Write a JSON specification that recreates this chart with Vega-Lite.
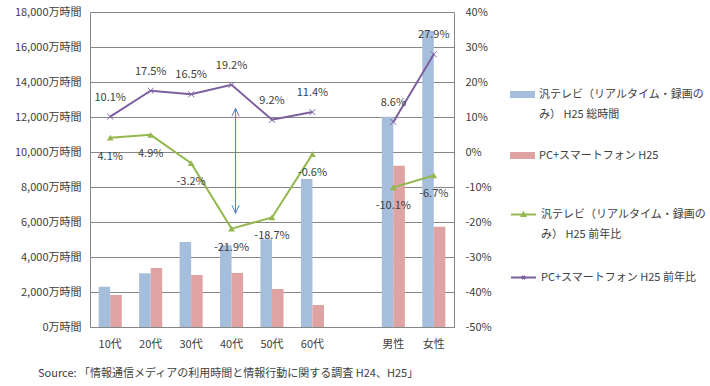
{
  "$schema": "https://vega.github.io/schema/vega-lite/v6.json",
  "width": 364,
  "height": 315,
  "autosize": {"type": "none"},
  "padding": {"left": 90, "top": 12, "right": 256, "bottom": 59},
  "background": "white",
  "config": {
    "font": "Noto Sans CJK JP",
    "view": {"stroke": null},
    "style": {"guide-label": {"lineHeight": 20}},
    "locale": {"number": {"decimal": ".", "thousands": ",", "grouping": [3], "currency": ["", ""], "minus": "-"}}
  },
  "title": {
    "text": "Source: 「情報通信メディアの利用時間と情報行動に関する調査 H24、H25」",
    "orient": "bottom", "anchor": "start", "frame": "group",
    "fontSize": 11, "fontWeight": "normal", "color": "#404040", "dx": -52, "offset": 19
  },
  "datasets": {
    "bars": [
      {"cat": "10代", "series": "汎テレビ（リアルタイム・録画のみ） H25 総時間", "value": 2300},
      {"cat": "10代", "series": "PC+スマートフォン H25", "value": 1830},
      {"cat": "20代", "series": "汎テレビ（リアルタイム・録画のみ） H25 総時間", "value": 3070},
      {"cat": "20代", "series": "PC+スマートフォン H25", "value": 3370},
      {"cat": "30代", "series": "汎テレビ（リアルタイム・録画のみ） H25 総時間", "value": 4860},
      {"cat": "30代", "series": "PC+スマートフォン H25", "value": 2970},
      {"cat": "40代", "series": "汎テレビ（リアルタイム・録画のみ） H25 総時間", "value": 4670},
      {"cat": "40代", "series": "PC+スマートフォン H25", "value": 3090},
      {"cat": "50代", "series": "汎テレビ（リアルタイム・録画のみ） H25 総時間", "value": 5010},
      {"cat": "50代", "series": "PC+スマートフォン H25", "value": 2170},
      {"cat": "60代", "series": "汎テレビ（リアルタイム・録画のみ） H25 総時間", "value": 8460},
      {"cat": "60代", "series": "PC+スマートフォン H25", "value": 1260},
      {"cat": "男性", "series": "汎テレビ（リアルタイム・録画のみ） H25 総時間", "value": 12020},
      {"cat": "男性", "series": "PC+スマートフォン H25", "value": 9220},
      {"cat": "女性", "series": "汎テレビ（リアルタイム・録画のみ） H25 総時間", "value": 16910},
      {"cat": "女性", "series": "PC+スマートフォン H25", "value": 5730}
    ],
    "lines": [
      {"cat": "10代", "grp": "age", "series": "汎テレビ（リアルタイム・録画のみ） H25 前年比", "pct": 0.041},
      {"cat": "20代", "grp": "age", "series": "汎テレビ（リアルタイム・録画のみ） H25 前年比", "pct": 0.049},
      {"cat": "30代", "grp": "age", "series": "汎テレビ（リアルタイム・録画のみ） H25 前年比", "pct": -0.032},
      {"cat": "40代", "grp": "age", "series": "汎テレビ（リアルタイム・録画のみ） H25 前年比", "pct": -0.219},
      {"cat": "50代", "grp": "age", "series": "汎テレビ（リアルタイム・録画のみ） H25 前年比", "pct": -0.187},
      {"cat": "60代", "grp": "age", "series": "汎テレビ（リアルタイム・録画のみ） H25 前年比", "pct": -0.006},
      {"cat": "男性", "grp": "sex", "series": "汎テレビ（リアルタイム・録画のみ） H25 前年比", "pct": -0.101},
      {"cat": "女性", "grp": "sex", "series": "汎テレビ（リアルタイム・録画のみ） H25 前年比", "pct": -0.067},
      {"cat": "10代", "grp": "age", "series": "PC+スマートフォン H25 前年比", "pct": 0.101},
      {"cat": "20代", "grp": "age", "series": "PC+スマートフォン H25 前年比", "pct": 0.175},
      {"cat": "30代", "grp": "age", "series": "PC+スマートフォン H25 前年比", "pct": 0.165},
      {"cat": "40代", "grp": "age", "series": "PC+スマートフォン H25 前年比", "pct": 0.192},
      {"cat": "50代", "grp": "age", "series": "PC+スマートフォン H25 前年比", "pct": 0.092},
      {"cat": "60代", "grp": "age", "series": "PC+スマートフォン H25 前年比", "pct": 0.114},
      {"cat": "男性", "grp": "sex", "series": "PC+スマートフォン H25 前年比", "pct": 0.086},
      {"cat": "女性", "grp": "sex", "series": "PC+スマートフォン H25 前年比", "pct": 0.279}
    ],
    "arrow": [
      {"cat": "40代", "top": 12500, "bottom": 6500}
    ],
    "arrowTips": [
      {"cat": "40代", "v": 12500, "dir": "up"},
      {"cat": "40代", "v": 6500, "dir": "down"}
    ]
  },
  "layer": [
    {
      "layer": [
        {
          "data": {"name": "bars"},
          "mark": {"type": "bar"},
          "encoding": {
            "x": {
              "field": "cat", "type": "nominal",
              "scale": {"domain": ["10代", "20代", "30代", "40代", "50代", "60代", " ", "男性", "女性"], "paddingInner": 0.43, "paddingOuter": 0.215},
              "axis": {"title": null, "labelAngle": 0, "ticks": false, "labelPadding": 11, "labelFontSize": 11, "labelColor": "#404040", "domainColor": "#868686", "grid": false}
            },
            "xOffset": {
              "field": "series", "type": "nominal",
              "scale": {"domain": ["汎テレビ（リアルタイム・録画のみ） H25 総時間", "PC+スマートフォン H25"], "paddingInner": 0, "paddingOuter": 0}
            },
            "y": {
              "field": "value", "type": "quantitative",
              "scale": {"domain": [0, 18000], "nice": false},
              "axis": {
                "orient": "left", "title": null, "values": [0, 2000, 4000, 6000, 8000, 10000, 12000, 14000, 16000, 18000], "tickCount": 10,
                "labelExpr": "format(datum.value, ',') + '万時間'", "ticks": false, "labelPadding": 9, "labelOverlap": false,
                "labelFontSize": 11, "labelColor": "#404040", "grid": true, "gridColor": "#868686", "domainColor": "#868686"
              }
            },
            "color": {
              "field": "series", "type": "nominal",
              "scale": {"domain": ["汎テレビ（リアルタイム・録画のみ） H25 総時間", "PC+スマートフォン H25"], "range": ["#a5bedc", "#dea3a2"]},
              "legend": {
                "title": null, "orient": "none", "legendX": 420, "legendY": 70,
                "symbolType": "M-1,-0.28H1V0.28H-1Z", "symbolSize": 625, "symbolStrokeWidth": 0,
                "labelFontSize": 11, "labelColor": "#404040", "labelLimit": 260, "labelOffset": 4,
                "labelExpr": "split(replace(datum.label, '録画のみ', '録画の|み'), '|')",
                "rowPadding": 23
              }
            }
          }
        },
        {
          "data": {"name": "arrow"},
          "mark": {"type": "rule", "color": "#4f81bd", "strokeWidth": 1, "xOffset": 4},
          "encoding": {
            "x": {"field": "cat", "type": "nominal"},
            "y": {
              "field": "top", "type": "quantitative",
              "axis": {
                "orient": "left", "title": null, "values": [0, 2000, 4000, 6000, 8000, 10000, 12000, 14000, 16000, 18000], "tickCount": 10,
                "labelExpr": "format(datum.value, ',') + '万時間'", "ticks": false, "labelPadding": 9, "labelOverlap": false,
                "labelFontSize": 11, "labelColor": "#404040", "grid": true, "gridColor": "#868686", "domainColor": "#868686"
              }
            },
            "y2": {"field": "bottom"}
          }
        },
        {
          "data": {"name": "arrowTips"},
          "mark": {"type": "point", "filled": false, "stroke": "#4f81bd", "strokeWidth": 1, "size": 256, "xOffset": 4, "opacity": 1},
          "encoding": {
            "x": {"field": "cat", "type": "nominal"},
            "y": {
              "field": "v", "type": "quantitative",
              "axis": {
                "orient": "left", "title": null, "values": [0, 2000, 4000, 6000, 8000, 10000, 12000, 14000, 16000, 18000], "tickCount": 10,
                "labelExpr": "format(datum.value, ',') + '万時間'", "ticks": false, "labelPadding": 9, "labelOverlap": false,
                "labelFontSize": 11, "labelColor": "#404040", "grid": true, "gridColor": "#868686", "domainColor": "#868686"
              }
            },
            "shape": {
              "field": "dir", "type": "nominal",
              "scale": {"domain": ["up", "down"], "range": ["M-0.45,1L0,0L0.45,1", "M-0.45,-1L0,0L0.45,-1"]},
              "legend": null
            }
          }
        }
      ]
    },
    {
      "data": {"name": "lines"},
      "resolve": {"scale": {"stroke": "independent"}, "legend": {"stroke": "independent"}},
      "layer": [
        {
          "transform": [{"filter": "indexof(datum.series, 'PC') !== 0"}],
          "mark": {"type": "line", "strokeWidth": 2, "color": "#94b84e"},
          "encoding": {
            "x": {"field": "cat", "type": "nominal"},
            "y": {
              "field": "pct", "type": "quantitative",
              "scale": {"domain": [-0.5, 0.4], "nice": false},
              "axis": {
                "orient": "right", "title": null, "values": [-0.5, -0.4, -0.3, -0.2, -0.1, 0, 0.1, 0.2, 0.3, 0.4], "tickCount": 10,
                "format": ".0%", "ticks": false, "labelPadding": 11, "labelOverlap": false, "labelFontSize": 11, "labelColor": "#404040",
                "grid": false, "domainColor": "#868686"
              }
            },
            "detail": {"field": "grp"}
          }
        },
        {
          "transform": [{"filter": "indexof(datum.series, 'PC') === 0"}],
          "mark": {"type": "line", "strokeWidth": 2, "color": "#7d5fa0"},
          "encoding": {
            "x": {"field": "cat", "type": "nominal"},
            "y": {
              "field": "pct", "type": "quantitative",
              "axis": {
                "orient": "right", "title": null, "values": [-0.5, -0.4, -0.3, -0.2, -0.1, 0, 0.1, 0.2, 0.3, 0.4], "tickCount": 10,
                "format": ".0%", "ticks": false, "labelPadding": 11, "labelOverlap": false, "labelFontSize": 11, "labelColor": "#404040",
                "grid": false, "domainColor": "#868686"
              }
            },
            "detail": {"field": "grp"}
          }
        },
        {
          "transform": [{"filter": "indexof(datum.series, 'PC') !== 0"}],
          "mark": {"type": "point", "filled": false, "opacity": 0, "strokeWidth": 2},
          "encoding": {
            "x": {"field": "cat", "type": "nominal"},
            "y": {
              "field": "pct", "type": "quantitative",
              "axis": {
                "orient": "right", "title": null, "values": [-0.5, -0.4, -0.3, -0.2, -0.1, 0, 0.1, 0.2, 0.3, 0.4], "tickCount": 10,
                "format": ".0%", "ticks": false, "labelPadding": 11, "labelOverlap": false, "labelFontSize": 11, "labelColor": "#404040",
                "grid": false, "domainColor": "#868686"
              }
            },
            "stroke": {
              "field": "series", "type": "nominal",
              "scale": {"domain": ["汎テレビ（リアルタイム・録画のみ） H25 前年比"], "range": ["#94b84e"]},
              "legend": {
                "title": null, "orient": "none", "legendX": 420, "legendY": 189,
                "symbolType": "M-1,0H1M-0.14,0.12L0,-0.13L0.14,0.12Z",
                "symbolSize": 625, "symbolStrokeWidth": 2, "symbolOpacity": 1, "symbolFillColor": "#94b84e",
                "labelFontSize": 11, "labelColor": "#404040", "labelLimit": 260, "labelOffset": 4,
                "labelExpr": "split(replace(datum.label, '録画のみ', '録画の|み'), '|')"
              }
            }
          }
        },
        {
          "transform": [{"filter": "indexof(datum.series, 'PC') === 0"}],
          "mark": {"type": "point", "filled": false, "opacity": 0, "strokeWidth": 2},
          "encoding": {
            "x": {"field": "cat", "type": "nominal"},
            "y": {
              "field": "pct", "type": "quantitative",
              "axis": {
                "orient": "right", "title": null, "values": [-0.5, -0.4, -0.3, -0.2, -0.1, 0, 0.1, 0.2, 0.3, 0.4], "tickCount": 10,
                "format": ".0%", "ticks": false, "labelPadding": 11, "labelOverlap": false, "labelFontSize": 11, "labelColor": "#404040",
                "grid": false, "domainColor": "#868686"
              }
            },
            "stroke": {
              "field": "series", "type": "nominal",
              "scale": {"domain": ["PC+スマートフォン H25 前年比"], "range": ["#7d5fa0"]},
              "legend": {
                "title": null, "orient": "none", "legendX": 420, "legendY": 252,
                "symbolType": "M-1,0H1M-0.13,-0.13L0.13,0.13M-0.13,0.13L0.13,-0.13",
                "symbolSize": 625, "symbolStrokeWidth": 2, "symbolOpacity": 1,
                "labelFontSize": 11, "labelColor": "#404040", "labelLimit": 260, "labelOffset": 4
              }
            }
          }
        },
        {
          "transform": [{"filter": "indexof(datum.series, 'PC') === 0"}],
          "mark": {"type": "point", "shape": "M-1,-1L1,1M-1,1L1,-1", "filled": false, "stroke": "#7d5fa0", "strokeWidth": 1, "size": 36, "opacity": 1},
          "encoding": {
            "x": {"field": "cat", "type": "nominal"},
            "y": {
              "field": "pct", "type": "quantitative",
              "axis": {
                "orient": "right", "title": null, "values": [-0.5, -0.4, -0.3, -0.2, -0.1, 0, 0.1, 0.2, 0.3, 0.4], "tickCount": 10,
                "format": ".0%", "ticks": false, "labelPadding": 11, "labelOverlap": false, "labelFontSize": 11, "labelColor": "#404040",
                "grid": false, "domainColor": "#868686"
              }
            }
          }
        },
        {
          "transform": [{"filter": "indexof(datum.series, 'PC') !== 0"}],
          "mark": {"type": "point", "shape": "triangle-up", "filled": true, "color": "#94b84e", "size": 45, "opacity": 1},
          "encoding": {
            "x": {"field": "cat", "type": "nominal"},
            "y": {
              "field": "pct", "type": "quantitative",
              "axis": {
                "orient": "right", "title": null, "values": [-0.5, -0.4, -0.3, -0.2, -0.1, 0, 0.1, 0.2, 0.3, 0.4], "tickCount": 10,
                "format": ".0%", "ticks": false, "labelPadding": 11, "labelOverlap": false, "labelFontSize": 11, "labelColor": "#404040",
                "grid": false, "domainColor": "#868686"
              }
            }
          }
        },
        {
          "transform": [{"filter": "indexof(datum.series, 'PC') === 0"}],
          "mark": {"type": "text", "fontSize": 11, "color": "#404040", "dy": -19},
          "encoding": {
            "x": {"field": "cat", "type": "nominal"},
            "y": {
              "field": "pct", "type": "quantitative",
              "axis": {
                "orient": "right", "title": null, "values": [-0.5, -0.4, -0.3, -0.2, -0.1, 0, 0.1, 0.2, 0.3, 0.4], "tickCount": 10,
                "format": ".0%", "ticks": false, "labelPadding": 11, "labelOverlap": false, "labelFontSize": 11, "labelColor": "#404040",
                "grid": false, "domainColor": "#868686"
              }
            },
            "text": {"field": "pct", "type": "quantitative", "format": ".1%"}
          }
        },
        {
          "transform": [{"filter": "indexof(datum.series, 'PC') !== 0"}],
          "mark": {"type": "text", "fontSize": 11, "color": "#404040", "dy": 19},
          "encoding": {
            "x": {"field": "cat", "type": "nominal"},
            "y": {
              "field": "pct", "type": "quantitative",
              "axis": {
                "orient": "right", "title": null, "values": [-0.5, -0.4, -0.3, -0.2, -0.1, 0, 0.1, 0.2, 0.3, 0.4], "tickCount": 10,
                "format": ".0%", "ticks": false, "labelPadding": 11, "labelOverlap": false, "labelFontSize": 11, "labelColor": "#404040",
                "grid": false, "domainColor": "#868686"
              }
            },
            "text": {"field": "pct", "type": "quantitative", "format": ".1%"}
          }
        }
      ]
    }
  ],
  "resolve": {"scale": {"y": "independent"}}
}
